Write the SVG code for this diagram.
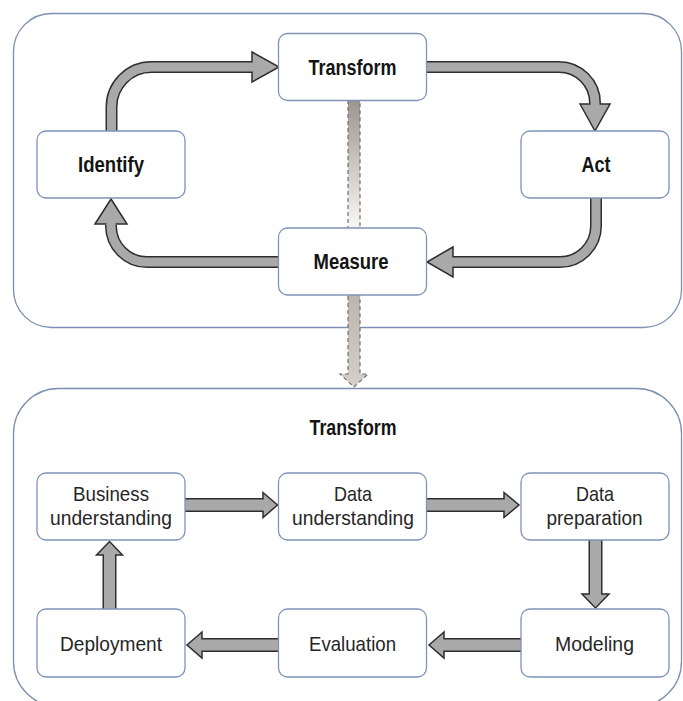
<svg xmlns="http://www.w3.org/2000/svg" width="683" height="701" viewBox="0 0 683 701">
<style>
.frame{fill:#fff;stroke:#7d8fb0;stroke-width:1.3}
.node{fill:#fff;stroke:#7f93b8;stroke-width:1.3}
.tb{font-family:"Liberation Sans",Arial,sans-serif;font-weight:bold;font-size:22px;fill:#141414;text-anchor:middle}
.tr{font-family:"Liberation Sans",Arial,sans-serif;font-size:21px;fill:#262626;text-anchor:middle}
.so{fill:none;stroke:#2e2e2e;stroke-width:12}
.si{fill:none;stroke:#a9a9a9;stroke-width:9}
.head{fill:#a9a9a9;stroke:#2e2e2e;stroke-width:1.5;stroke-linejoin:miter}
.so2{fill:none;stroke:#2e2e2e;stroke-width:14}
.si2{fill:none;stroke:#a9a9a9;stroke-width:11}
</style>
<defs>
<linearGradient id="dg" gradientUnits="userSpaceOnUse" x1="0" y1="100" x2="0" y2="387">
<stop offset="0" stop-color="#9d948c"/>
<stop offset="0.435" stop-color="#f7f5f3"/>
<stop offset="0.683" stop-color="#bdb5ad"/>
<stop offset="1" stop-color="#d4cfca"/>
</linearGradient>
</defs>

<rect id="frame-top" class="frame" x="13.5" y="13.5" width="668" height="314" rx="38"/>
<rect id="frame-bottom" class="frame" x="13.5" y="388.5" width="668" height="318" rx="45"/>

<g id="connectors">
<path d="M348,100 V374 H340 L354,387 L368,374 H360 V100 Z" fill="url(#dg)" stroke="#6e6e6e" stroke-width="1.2" stroke-dasharray="4 3"/>

<path class="so" d="M111.5,131 V107 A40 40 0 0 1 151.5,67 H253"/>
<polygon class="head" points="252,52 279,67 252,82"/>
<path class="si" d="M111.5,132 V107 A40 40 0 0 1 151.5,67 H255"/>

<path class="so" d="M426,67 H559 A36 36 0 0 1 595,103 V105"/>
<polygon class="head" points="580,104 595,131 610,104"/>
<path class="si" d="M425,67 H559 A36 36 0 0 1 595,103 V107"/>

<path class="so" d="M596,198 V226 A36 36 0 0 1 560,262 H452"/>
<polygon class="head" points="453,247 427,262 453,277"/>
<path class="si" d="M596,197 V226 A36 36 0 0 1 560,262 H450"/>

<path class="so" d="M279,262 H147 A36 36 0 0 1 111,226 V225"/>
<polygon class="head" points="95,224 111,199 127,224"/>
<path class="si" d="M280,262 H147 A36 36 0 0 1 111,226 V222"/>

<path class="so2" d="M185,505 H264"/>
<polygon class="head" points="263,492.5 277.5,505 263,517.5"/>
<path class="si2" d="M184,505 H266"/>

<path class="so2" d="M426,505 H505"/>
<polygon class="head" points="504,492.5 519,505 504,517.5"/>
<path class="si2" d="M425,505 H507"/>

<path class="so2" d="M595.5,540 V595"/>
<polygon class="head" points="582,594 595.5,608 609,594"/>
<path class="si2" d="M595.5,539 V597"/>

<path class="so2" d="M521,645 H443"/>
<polygon class="head" points="444,632 429,645 444,658"/>
<path class="si2" d="M522,645 H441"/>

<path class="so2" d="M279,645 H201"/>
<polygon class="head" points="202,632 187,645 202,658"/>
<path class="si2" d="M280,645 H199"/>

<path class="so2" d="M109.5,609 V554"/>
<polygon class="head" points="96.5,555 109.5,541.5 122.5,555"/>
<path class="si2" d="M109.5,610 V552"/>
</g>

<g id="node-transform"><rect class="node" x="278.5" y="33.5" width="148" height="67" rx="9"/><text class="tb" x="352.5" y="74.5" textLength="88" lengthAdjust="spacingAndGlyphs">Transform</text></g>
<g id="node-identify"><rect class="node" x="37" y="131" width="148" height="67" rx="9"/><text class="tb" x="111" y="171.5" textLength="66" lengthAdjust="spacingAndGlyphs">Identify</text></g>
<g id="node-act"><rect class="node" x="521" y="131" width="148" height="67" rx="9"/><text class="tb" x="596" y="171.5" textLength="29" lengthAdjust="spacingAndGlyphs">Act</text></g>
<g id="node-measure"><rect class="node" x="278.5" y="228" width="148" height="67" rx="9"/><text class="tb" x="351" y="269" textLength="75" lengthAdjust="spacingAndGlyphs">Measure</text></g>

<g id="title-transform"><text class="tb" x="353" y="435" textLength="87" lengthAdjust="spacingAndGlyphs">Transform</text></g>

<g id="node-business"><rect class="node" x="37" y="473" width="148" height="67" rx="9"/><text class="tr" x="111" y="500.5" textLength="76" lengthAdjust="spacingAndGlyphs">Business</text><text class="tr" x="111" y="524.5" textLength="122" lengthAdjust="spacingAndGlyphs">understanding</text></g>
<g id="node-data-understanding"><rect class="node" x="278.5" y="473" width="148" height="67" rx="9"/><text class="tr" x="353" y="500.5" textLength="38" lengthAdjust="spacingAndGlyphs">Data</text><text class="tr" x="353" y="524.5" textLength="122" lengthAdjust="spacingAndGlyphs">understanding</text></g>
<g id="node-data-preparation"><rect class="node" x="521" y="473" width="148" height="67" rx="9"/><text class="tr" x="595" y="500.5" textLength="38" lengthAdjust="spacingAndGlyphs">Data</text><text class="tr" x="594.5" y="524.5" textLength="96" lengthAdjust="spacingAndGlyphs">preparation</text></g>
<g id="node-deployment"><rect class="node" x="37" y="609" width="148" height="68" rx="9"/><text class="tr" x="111" y="651" textLength="102" lengthAdjust="spacingAndGlyphs">Deployment</text></g>
<g id="node-evaluation"><rect class="node" x="278.5" y="609" width="148" height="68" rx="9"/><text class="tr" x="352.5" y="651" textLength="87" lengthAdjust="spacingAndGlyphs">Evaluation</text></g>
<g id="node-modeling"><rect class="node" x="521" y="609" width="148" height="68" rx="9"/><text class="tr" x="594.5" y="651" textLength="79" lengthAdjust="spacingAndGlyphs">Modeling</text></g>
</svg>
